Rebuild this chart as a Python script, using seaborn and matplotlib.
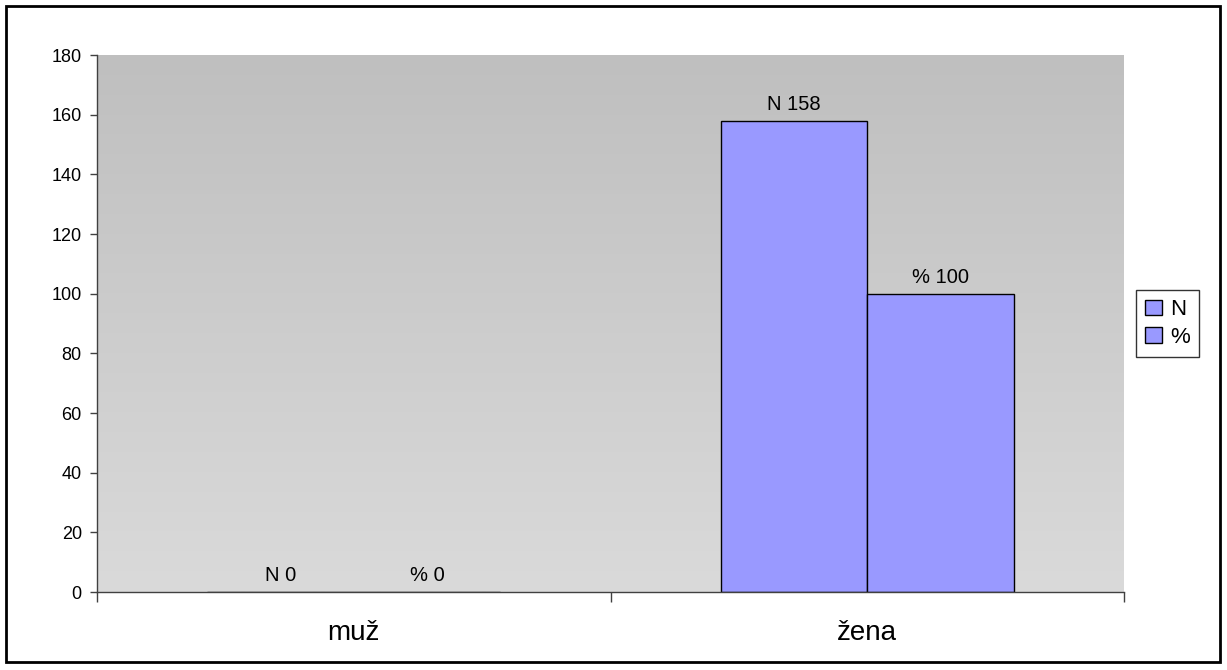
import numpy as np
import pandas as pd
import seaborn as sns
from matplotlib import pyplot as plt
from matplotlib.colors import LinearSegmentedColormap
from matplotlib.patches import Rectangle

# Chart data
categories = ["muž", "žena"]
series_names = ["N", "%"]
n_values = [0, 158]
pct_values = [0, 100]
y_ticks = [0, 20, 40, 60, 80, 100, 120, 140, 160, 180]


def main():
    sns.set_style("white")
    plt.rcParams["font.family"] = ["Liberation Sans", "DejaVu Sans"]
    plt.rcParams["text.color"] = "black"
    plt.rcParams["xtick.color"] = "black"
    plt.rcParams["ytick.color"] = "black"

    df = pd.DataFrame({
        "kategorie": categories * 2,
        "serie": [series_names[0]] * len(categories) + [series_names[1]] * len(categories),
        "hodnota": n_values + pct_values,
    })

    fig = plt.figure(figsize=(12.27, 6.7), dpi=100)
    ax = fig.add_axes([0.0791, 0.1164, 0.837, 0.8015])

    # Excel-like gray gradient plot area
    cmap = LinearSegmentedColormap.from_list("bg", ["#dadada", "#bfbfbf"])
    grad = np.linspace(0, 1, 256)[:, None]
    ax.imshow(grad, extent=[-0.5, 1.5, 0, 180], origin="lower", aspect="auto",
              cmap=cmap, zorder=0)

    sns.barplot(data=df, x="kategorie", y="hodnota", hue="serie",
                palette=["#9999ff", "#9999ff"], width=0.57, edgecolor="black",
                linewidth=1, saturation=1, ax=ax, zorder=2)

    for container, name in zip(ax.containers, series_names):
        labels = [f"{name} {v:g}" for v in container.datavalues]
        ax.bar_label(container, labels=labels, padding=5, fontsize=14.5, color="black")

    ax.set_xlim(-0.5, 1.5)
    ax.set_ylim(0, 180)
    ax.set_yticks(y_ticks)
    ax.tick_params(axis="y", labelsize=13, length=5, width=1, color="#404040",
                   direction="out", left=True, pad=6)
    ax.set_xticks([0, 1])
    ax.set_xticklabels(categories, fontsize=20)
    ax.tick_params(axis="x", length=0, pad=20)
    # category boundary ticks
    ax.set_xticks([-0.5, 0.5, 1.5], minor=True)
    ax.tick_params(axis="x", which="minor", length=7, width=1, color="#404040",
                   direction="out", bottom=True)
    ax.set_xlabel("")
    ax.set_ylabel("")

    for side in ["top", "right"]:
        ax.spines[side].set_visible(False)
    for side in ["left", "bottom"]:
        ax.spines[side].set_color("#404040")
        ax.spines[side].set_linewidth(1)
        ax.spines[side].set_zorder(3)

    handles, labels = ax.get_legend_handles_labels()
    ax.legend(handles, labels, loc="center left", bbox_to_anchor=(1136 / 1227, 1 - 323.5 / 670),
              bbox_transform=fig.transFigure, frameon=True, fancybox=False,
              edgecolor="black", fontsize=16, handlelength=0.75, handleheight=0.7,
              handletextpad=0.4, borderpad=0.4, labelspacing=0.3, borderaxespad=0)
    leg = ax.get_legend()
    leg.get_frame().set_linewidth(1)

    # outer chart border
    fig.patches.append(Rectangle((6 / 1227, 8 / 670), 1214 / 1227, 656 / 670,
                                 transform=fig.transFigure, fill=False,
                                 edgecolor="black", linewidth=2))

    fig.savefig("out.png", dpi=100, facecolor="white")


if __name__ == "__main__":
    main()
